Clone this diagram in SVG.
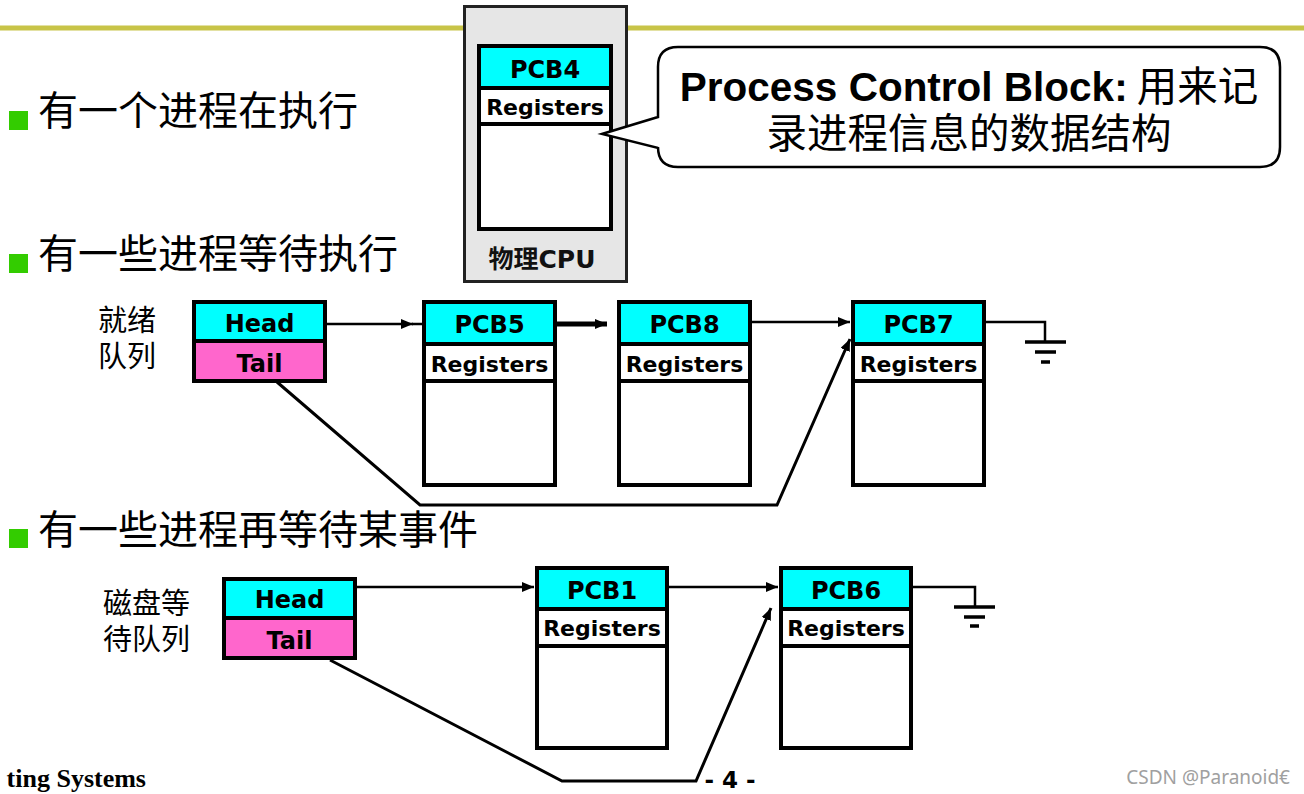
<svg xmlns="http://www.w3.org/2000/svg" width="1304" height="794" viewBox="0 0 1304 794">
<defs>
<marker id="ah" markerUnits="userSpaceOnUse" markerWidth="14" markerHeight="12" refX="12" refY="5" orient="auto"><path d="M0,0 L12,5 L0,10 z" fill="#000"/></marker>
</defs>
<style>
.cjk{font-family:"Noto Sans CJK SC",sans-serif;fill:#000}
.big{font-size:40px}
.lab{font-size:29px}
.pcbt{font-family:"DejaVu Sans",sans-serif;font-weight:bold;font-size:24px;text-anchor:middle;fill:#000}
.reg{font-family:"DejaVu Sans",sans-serif;font-weight:bold;font-size:22px;text-anchor:middle;fill:#000}
.box{fill:none;stroke:#000;stroke-width:4}
.cy{fill:#00ffff}
.pk{fill:#ff66cc}
.wh{fill:#fff}
.div{stroke:#000;stroke-width:4}
.ln{fill:none;stroke:#000;stroke-width:2.5}
.gnd{fill:none;stroke:#000;stroke-width:3.5}
.bul{fill:#33cc00}
</style>
<rect width="1304" height="794" fill="#fff"/>
<line x1="0" y1="28" x2="1304" y2="28" stroke="#c8c448" stroke-width="5"/>

<g id="bullets">
<rect class="bul" x="9" y="111" width="19" height="19"/>
<text class="cjk big" x="38" y="125">有一个进程在执行</text>
<rect class="bul" x="9" y="254" width="19" height="19"/>
<text class="cjk big" x="38" y="268">有一些进程等待执行</text>
<rect class="bul" x="9" y="529" width="19" height="19"/>
<text class="cjk big" x="38" y="544">有一些进程再等待某事件</text>
</g>

<g id="cpu">
<rect x="464.5" y="6.5" width="162" height="275" fill="#e6e6e6" stroke="#222" stroke-width="3"/>
<text x="542" y="268" text-anchor="middle" font-family="'DejaVu Sans','Noto Sans CJK SC',sans-serif" font-weight="bold" font-size="25" fill="#111">物理CPU</text>
</g>
<g id="pcb4">
<rect class="wh" x="479" y="46" width="132" height="183"/>
<rect class="cy" x="479" y="46" width="132" height="42"/>
<line class="div" x1="479" y1="88" x2="611" y2="88"/>
<line class="div" x1="479" y1="124" x2="611" y2="124"/>
<rect class="box" x="479" y="46" width="132" height="183"/>
<text class="pcbt" x="545" y="78">PCB4</text>
<text class="reg" x="545" y="115">Registers</text>
</g>

<g id="callout">
<path d="M678,47 H1260 Q1280,47 1280,67 V147 Q1280,167 1260,167 H678 Q658,167 658,147 V148 L602,134 L658,117 V67 Q658,47 678,47 Z" fill="#fff" stroke="#000" stroke-width="2.5"/>
<text text-anchor="middle" font-size="40.5" fill="#000"><tspan x="969" y="101" font-family="'Liberation Sans',Arial,sans-serif" font-weight="bold">Process Control Block:</tspan><tspan font-family="'Noto Sans CJK SC',sans-serif"> 用来记</tspan><tspan x="969" y="148" font-family="'Noto Sans CJK SC',sans-serif">录进程信息的数据结构</tspan></text>
</g>

<g id="ready-label">
<text class="cjk lab"><tspan x="98" y="331">就绪</tspan><tspan x="98" y="367">队列</tspan></text>
</g>
<g id="ready-headtail">
<rect class="cy" x="194" y="302" width="131" height="39"/>
<rect class="pk" x="194" y="341" width="131" height="40"/>
<line class="div" x1="194" y1="341" x2="325" y2="341"/>
<rect class="box" x="194" y="302" width="131" height="79"/>
<text class="pcbt" x="259.5" y="332">Head</text>
<text class="pcbt" x="259.5" y="372">Tail</text>
</g>
<g id="pcb5">
<rect class="wh" x="424" y="302" width="131" height="183"/>
<rect class="cy" x="424" y="302" width="131" height="42"/>
<line class="div" x1="424" y1="344" x2="555" y2="344"/>
<line class="div" x1="424" y1="381" x2="555" y2="381"/>
<rect class="box" x="424" y="302" width="131" height="183"/>
<text class="pcbt" x="489.5" y="333">PCB5</text>
<text class="reg" x="489.5" y="372">Registers</text>
</g>
<g id="pcb8">
<rect class="wh" x="619" y="302" width="131" height="183"/>
<rect class="cy" x="619" y="302" width="131" height="42"/>
<line class="div" x1="619" y1="344" x2="750" y2="344"/>
<line class="div" x1="619" y1="381" x2="750" y2="381"/>
<rect class="box" x="619" y="302" width="131" height="183"/>
<text class="pcbt" x="684.5" y="333">PCB8</text>
<text class="reg" x="684.5" y="372">Registers</text>
</g>
<g id="pcb7">
<rect class="wh" x="853" y="302" width="131" height="183"/>
<rect class="cy" x="853" y="302" width="131" height="42"/>
<line class="div" x1="853" y1="344" x2="984" y2="344"/>
<line class="div" x1="853" y1="381" x2="984" y2="381"/>
<rect class="box" x="853" y="302" width="131" height="183"/>
<text class="pcbt" x="918.5" y="333">PCB7</text>
<text class="reg" x="918.5" y="372">Registers</text>
</g>

<g id="disk-label">
<text class="cjk lab"><tspan x="103" y="614">磁盘等</tspan><tspan x="103" y="650">待队列</tspan></text>
</g>
<g id="disk-headtail">
<rect class="cy" x="224" y="579" width="131" height="39"/>
<rect class="pk" x="224" y="618" width="131" height="40"/>
<line class="div" x1="224" y1="618" x2="355" y2="618"/>
<rect class="box" x="224" y="579" width="131" height="79"/>
<text class="pcbt" x="289.5" y="608">Head</text>
<text class="pcbt" x="289.5" y="649">Tail</text>
</g>
<g id="pcb1">
<rect class="wh" x="537" y="568" width="130" height="180"/>
<rect class="cy" x="537" y="568" width="130" height="41"/>
<line class="div" x1="537" y1="609" x2="667" y2="609"/>
<line class="div" x1="537" y1="646" x2="667" y2="646"/>
<rect class="box" x="537" y="568" width="130" height="180"/>
<text class="pcbt" x="602" y="599">PCB1</text>
<text class="reg" x="602" y="636">Registers</text>
</g>
<g id="pcb6">
<rect class="wh" x="781" y="568" width="130" height="180"/>
<rect class="cy" x="781" y="568" width="130" height="41"/>
<line class="div" x1="781" y1="609" x2="911" y2="609"/>
<line class="div" x1="781" y1="646" x2="911" y2="646"/>
<rect class="box" x="781" y="568" width="130" height="180"/>
<text class="pcbt" x="846" y="599">PCB6</text>
<text class="reg" x="846" y="636">Registers</text>
</g>

<g id="connectors">
<path class="ln" d="M327,324 H413" marker-end="url(#ah)"/>
<path class="ln" d="M412,324 H422"/>
<path d="M557,324 H607" fill="none" stroke="#000" stroke-width="5" marker-end="url(#ah)"/>
<path class="ln" d="M752,322 H850" marker-end="url(#ah)"/>
<path fill="none" stroke="#000" stroke-width="3" d="M277,382 L420,505 H777 L850,339" marker-end="url(#ah)"/>
<path class="ln" d="M986,322 H1045 V342"/>
<path class="gnd" d="M1025,342 H1066 M1035,352 H1056 M1041,362 H1050"/>
<path class="ln" d="M357,587 H534" marker-end="url(#ah)"/>
<path class="ln" d="M669,587 H778" marker-end="url(#ah)"/>
<path fill="none" stroke="#000" stroke-width="3" d="M330,660 L562,781 H696 L771,608" marker-end="url(#ah)"/>
<path class="ln" d="M913,587 H975 V607"/>
<path class="gnd" d="M954,607 H995 M964,617 H985 M970,626 H979"/>
</g>

<g id="footer">
<text x="146" y="787" text-anchor="end" font-family="'Liberation Serif',serif" font-weight="bold" font-size="26" fill="#000">ting Systems</text>
<text x="730" y="788" text-anchor="middle" font-family="'DejaVu Sans',sans-serif" font-weight="bold" font-size="23" fill="#000">- 4 -</text>
<text x="1290" y="784" text-anchor="end" font-family="'Noto Sans',sans-serif" font-size="19" fill="#a0a0a0">CSDN @Paranoid€</text>
</g>
</svg>
